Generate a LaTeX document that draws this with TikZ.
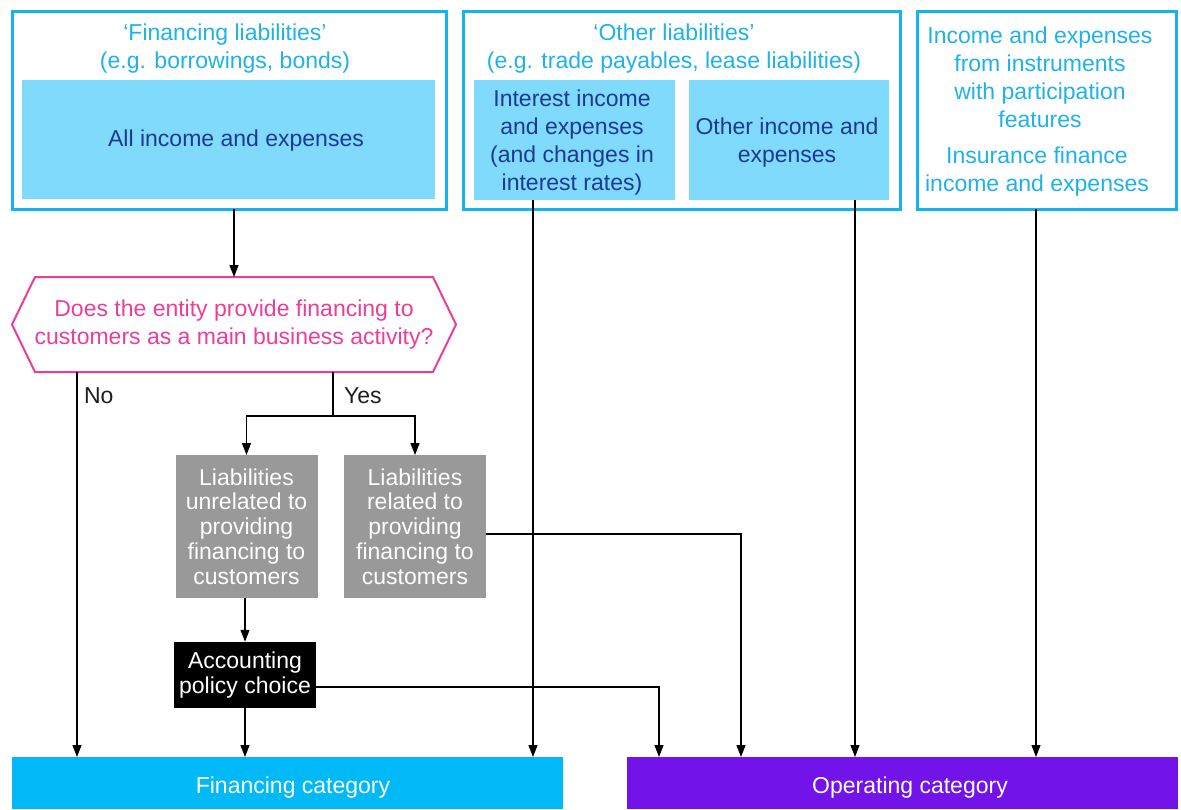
\documentclass[tikz,border=0pt]{standalone}
\usepackage{fontspec}
\setmainfont{Liberation Sans}
\usetikzlibrary{arrows.meta,calc}

\definecolor{kborder}{RGB}{22,180,236}
\definecolor{ktitle}{RGB}{30,178,232}
\definecolor{klight}{RGB}{127,218,251}
\definecolor{kdark}{RGB}{28,58,148}
\definecolor{kpink}{RGB}{236,62,152}
\definecolor{kgray}{RGB}{153,153,153}
\definecolor{kfin}{RGB}{0,185,246}
\definecolor{kop}{RGB}{114,19,234}
\definecolor{klabel}{RGB}{30,30,30}

\begin{document}
\begin{tikzpicture}[x=1pt,y=-1pt,
  every node/.style={inner sep=0pt,outer sep=0pt,align=center,
    font=\fontsize{23}{28}\selectfont},
  groupbox/.style={draw=kborder,line width=3pt,minimum height=197.5pt},
  grouptitle/.style={text=ktitle},
  itembox/.style={fill=klight},
  itemtext/.style={text=kdark},
  graybox/.style={fill=kgray,text=white,minimum width=142pt,minimum height=143pt,
    font=\fontsize{23}{24.8}\selectfont},
  choicebox/.style={fill=black,text=white,minimum width=142pt,minimum height=66.5pt,
    font=\fontsize{23}{24.8}\selectfont},
  catbox/.style={minimum width=551pt,minimum height=52pt},
  cattext/.style={text=white},
  arr/.style={-{Triangle[width=9pt,length=12pt]},line width=1.1pt,draw=black}
]
\useasboundingbox (0,0) rectangle (1181,809);

% --- top row: three groups of liabilities ---
\node[groupbox,minimum width=434pt] (fl) at (229.5,110.25) {};
\node[grouptitle] (flt) at (225,49) {‘Financing liabilities’\\(e.g. borrowings, bonds)};
\node[itembox,minimum width=413pt,minimum height=119pt] (fla) at (228.5,139.5) {};
\node[itemtext] (flat) at (236,141) {All income and expenses};

\node[groupbox,minimum width=437pt] (ol) at (681.5,110.25) {};
\node[grouptitle] (olt) at (674,49) {‘Other liabilities’\\(e.g. trade payables, lease liabilities)};
\node[itembox,minimum width=201pt,minimum height=120pt] (oli) at (574.5,140) {};
\node[itemtext] (olit) at (572,143)
  {Interest income\\and expenses\\(and changes in\\interest rates)};
\node[itembox,minimum width=200pt,minimum height=120pt] (olo) at (789,140) {};
\node[itemtext] (olot) at (787,143) {Other income and\\expenses};

\node[groupbox,minimum width=259pt] (pf) at (1047,110.25) {};
\node[grouptitle] (pft) at (1040,77.5) {Income and expenses\\from instruments\\with participation\\features};
\node[grouptitle] (pfi) at (1037,172) {Insurance finance\\income and expenses};

% --- decision ---
\node[text=kpink,minimum width=444pt,minimum height=95pt] (q) at (234,324.5)
  {Does the entity provide financing to\\customers as a main business activity?};
\draw[kpink,line width=2pt,line join=miter]
  (q.west) -- ($(q.north west)+(23,0)$) -- ($(q.north east)+(-23,0)$) -- (q.east)
  -- ($(q.south east)+(-23,0)$) -- ($(q.south west)+(23,0)$) -- cycle;

% --- outcome boxes ---
\node[graybox] (g1) at (246.5,526.5)
  {Liabilities\\unrelated to\\providing\\financing to\\customers};
\node[graybox] (g2) at (415,526.5)
  {Liabilities\\related to\\providing\\financing to\\customers};
\node[choicebox] (acc) at (245,675) {Accounting\\policy choice};

\node[catbox,fill=kfin] (fin) at (287.5,783) {};
\node[cattext] (fint) at (293,788) {Financing category};
\node[catbox,fill=kop] (op) at (902.5,783) {};
\node[cattext] (opt) at (910,788) {Operating category};

% --- connectors ---
\draw[arr] (fl.south -| q.north) -- (q.north);

\coordinate (nolane) at ($(q.south west)+(65,0)$);
\coordinate (yeslane) at ($(q.south west)+(321,0)$);
\draw[arr] (nolane) -- (nolane |- fin.north);
\node[text=klabel,anchor=west] (nolbl) at ($(nolane)+(7,24)$) {No};
\draw[line width=1.1pt] (yeslane) -- ++(0,44) coordinate (split);
\node[text=klabel,anchor=west] (yeslbl) at ($(yeslane)+(11,24)$) {Yes};
\draw[arr] (split) -| (g1.north);
\draw[arr] (split) -| (g2.north);

\draw[arr] (g1.south -| acc.north) -- (acc.north);
\draw[arr] (acc.south) -- (acc.south |- fin.north);
\draw[arr] ($(acc.east)+(0,12)$) -| ($(op.north west)+(32,0)$);
\draw[arr] ($(g2.east)+(0,7.5)$) -| ($(op.north west)+(114,0)$);

\draw[arr] ([xshift=-41.5pt]oli.south) -- ([xshift=-41.5pt]oli.south |- fin.north);
\draw[arr] ([xshift=66pt]olo.south) -- ([xshift=66pt]olo.south |- op.north);
\draw[arr] ([xshift=-11pt]pf.south) -- ([xshift=-11pt]pf.south |- op.north);
\end{tikzpicture}
\end{document}
